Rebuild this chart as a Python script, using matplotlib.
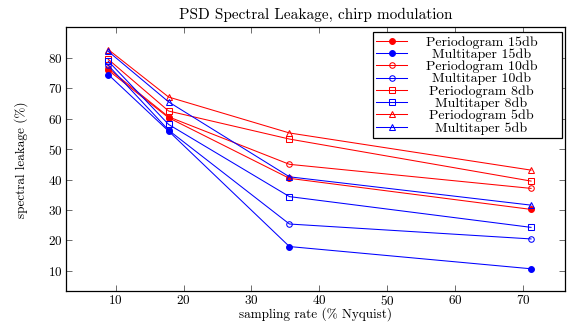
import matplotlib
matplotlib.use("Agg")
import matplotlib.pyplot as plt

plt.rcParams['font.family'] = ['cmr10', 'DejaVu Serif']
plt.rcParams['axes.formatter.use_mathtext'] = True

# sampling rate (% Nyquist)
rates = [8.9, 17.8, 35.6, 71.2]

# spectral leakage (%) per method / SNR
periodogram_15 = [75.9, 60.3, 40.4, 30.2]
multitaper_15 = [74.5, 55.9, 18.0, 10.7]
periodogram_10 = [76.5, 60.6, 45.0, 37.1]
multitaper_10 = [77.5, 56.2, 25.4, 20.5]
periodogram_8 = [79.5, 62.5, 53.3, 39.5]
multitaper_8 = [78.9, 58.1, 34.4, 24.3]
periodogram_5 = [82.7, 67.1, 55.3, 43.1]
multitaper_5 = [82.1, 65.5, 40.9, 31.6]

series = [
    ("Periodogram 15db", periodogram_15, 'red', 'o', True),
    ("Multitaper 15db", multitaper_15, 'blue', 'o', True),
    ("Periodogram 10db", periodogram_10, 'red', 'o', False),
    ("Multitaper 10db", multitaper_10, 'blue', 'o', False),
    ("Periodogram 8db", periodogram_8, 'red', 's', False),
    ("Multitaper 8db", multitaper_8, 'blue', 's', False),
    ("Periodogram 5db", periodogram_5, 'red', '^', False),
    ("Multitaper 5db", multitaper_5, 'blue', '^', False),
]

fig = plt.figure(figsize=(5.74, 3.22), dpi=100)
ax = fig.add_axes([0.1145, 0.0953, 0.8698, 0.8199])

for label, vals, color, marker, filled in series:
    ax.plot(rates, vals, color=color, marker=marker, linewidth=0.75,
            markersize=4.2 if filled else 4.0,
            markerfacecolor=color if filled else 'none',
            markeredgecolor=color, markeredgewidth=0.75, label=label)

ax.set_xlim(2.64, 76.2)
ax.set_ylim(3.3, 90)
ax.set_xticks([10, 20, 30, 40, 50, 60, 70])
ax.set_yticks([10, 20, 30, 40, 50, 60, 70, 80])
ax.tick_params(direction='in', top=True, right=True, labelsize=9.5,
               length=4, width=0.6, color='#555555', pad=2)
for s in ax.spines.values():
    s.set_linewidth(0.9)

ax.set_title("PSD Spectral Leakage, chirp modulation", fontsize=11, pad=6)
ax.set_xlabel("sampling rate (% Nyquist)", fontsize=9.5)
ax.xaxis.set_label_coords(0.5, -0.062)
ax.set_ylabel("spectral leakage (%)", fontsize=9.5)
ax.yaxis.set_label_coords(-0.075, 0.5)

leg = ax.legend(loc='upper left', bbox_to_anchor=(0.6155, 0.981, 0.378, 0.0),
                mode='expand', fontsize=10, frameon=True, fancybox=False,
                edgecolor='black', handlelength=2.2, borderpad=0.25,
                labelspacing=-0.03, handletextpad=0.3, borderaxespad=0.0)
leg.get_frame().set_linewidth(0.9)
leg.get_frame().set_alpha(1.0)

# centre the entries in the text column, like the original
fig.canvas.draw()
renderer = fig.canvas.get_renderer()
frame_box = leg.get_frame().get_window_extent(renderer)
texts = leg.get_texts()
boxes = [t.get_window_extent(renderer) for t in texts]
col_left = min(b.x0 for b in boxes)
col_right = frame_box.x1 - 10
for t, b in zip(texts, boxes):
    t.set_x((col_right - col_left - b.width) / 2)

fig.savefig("out.png", dpi=100)
